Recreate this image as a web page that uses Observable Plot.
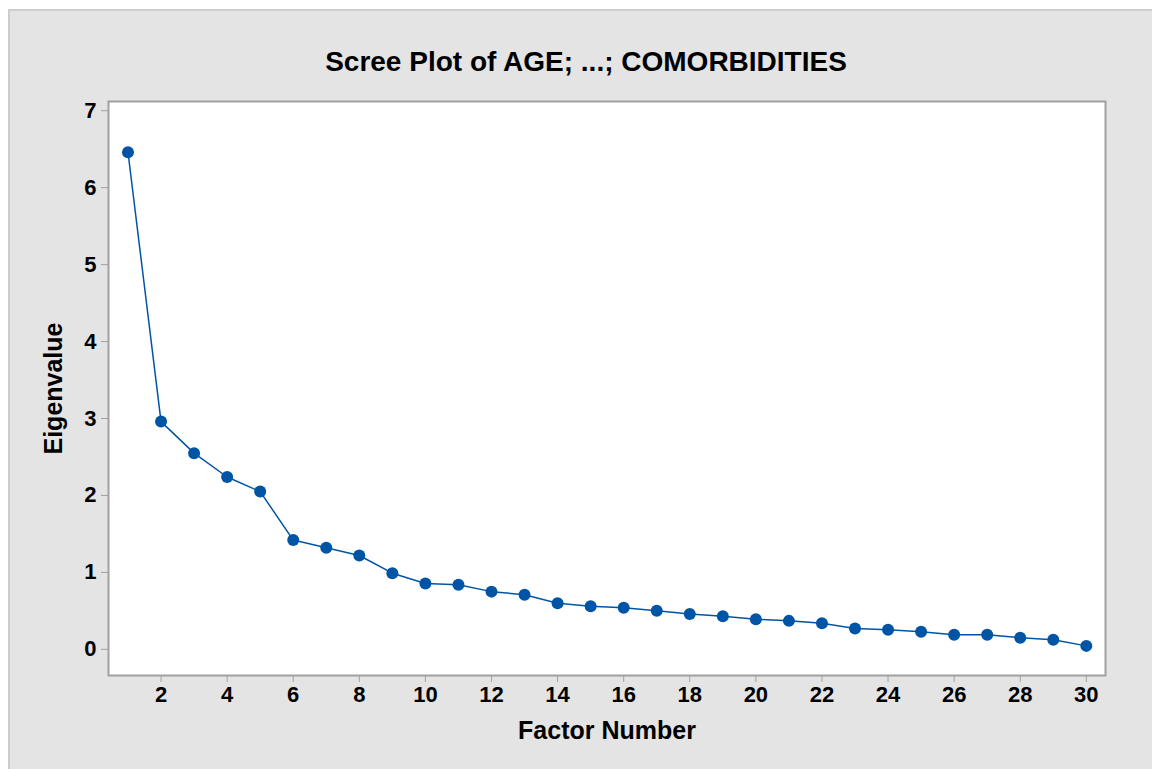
<!DOCTYPE html>
<html>
<head>
<meta charset="utf-8">
<script src="https://cdn.jsdelivr.net/npm/d3@7"></script>
<script src="https://cdn.jsdelivr.net/npm/@observablehq/plot@0.6"></script>
<style>
  html, body { margin: 0; padding: 0; background: white; }
  #page { position: relative; width: 1152px; height: 769px; overflow: hidden; }
  #panel { position: absolute; left: 8px; top: 9px; width: 1144px; height: 760px;
           background: #e4e4e4; border-top: 2px solid #cdcdcd; border-left: 2px solid #cdcdcd; box-sizing: border-box; }
  #chart { position: absolute; left: 0; top: 0; }
</style>
</head>
<body>
<div id="page">
  <div id="panel"></div>
  <div id="chart"></div>
</div>
<script>
const factors = [1,2,3,4,5,6,7,8,9,10,11,12,13,14,15,16,17,18,19,20,21,22,23,24,25,26,27,28,29,30];
const eigenvalues = [6.46, 2.96, 2.55, 2.24, 2.05, 1.42, 1.32, 1.22, 0.99, 0.855, 0.84, 0.75, 0.71, 0.60, 0.56, 0.54, 0.50, 0.46, 0.43, 0.39, 0.37, 0.34, 0.27, 0.255, 0.23, 0.19, 0.19, 0.15, 0.125, 0.045];
const xTicks = [2,4,6,8,10,12,14,16,18,20,22,24,26,28,30];
const yTicks = [0,1,2,3,4,5,6,7];
const title = "Scree Plot of AGE; ...; COMORBIDITIES";
const xLabel = "Factor Number";
const yLabel = "Eigenvalue";

const data = factors.map((f, i) => ({factor: f, value: eigenvalues[i]}));
const blue = "#0054a6";
const font = "'Liberation Sans', Arial, sans-serif";

const chart = Plot.plot({
  width: 1152,
  height: 769,
  marginLeft: 108,
  marginTop: 101,
  marginRight: 47,
  marginBottom: 94,
  style: {background: "transparent", fontFamily: font, color: "black", fontSize: "22px", fontWeight: "bold"},
  x: {domain: [0.41, 30.58]},
  y: {domain: [-0.34, 7.12]},
  marks: [
    Plot.frame({fill: "white", stroke: null}),
    Plot.axisX({ticks: xTicks, tickSize: 7, tickPadding: 4, stroke: "#a0a0a0", fill: "black",
                fontSize: 22, fontWeight: "bold", label: null, tickFormat: d => String(d)}),
    Plot.axisY({ticks: yTicks, tickSize: 7, tickPadding: 5, stroke: "#a0a0a0", fill: "black",
                fontSize: 22, fontWeight: "bold", label: null, tickFormat: d => String(d)}),
    Plot.line(data, {x: "factor", y: "value", stroke: blue, strokeWidth: 1.5}),
    Plot.dot(data, {x: "factor", y: "value", r: 6, fill: blue, stroke: null}),
    Plot.frame({stroke: "#a0a0a0", strokeWidth: 2}),
    Plot.text([title], {frameAnchor: "top", lineAnchor: "middle", dy: -39, dx: -21, fontSize: 28, fontWeight: "bold",
                        fill: "black", fontFamily: font, letterSpacing: "-0.3px"}),
    Plot.text([xLabel], {frameAnchor: "bottom", lineAnchor: "middle", dy: 55, fontSize: 25, fontWeight: "bold",
                         fill: "black", fontFamily: font}),
    Plot.text([yLabel], {frameAnchor: "left", lineAnchor: "middle", textAnchor: "middle", dx: -55, rotate: -90,
                         fontSize: 25, fontWeight: "bold", fill: "black", fontFamily: font})
  ]
});
document.getElementById("chart").appendChild(chart);
</script>
</body>
</html>
